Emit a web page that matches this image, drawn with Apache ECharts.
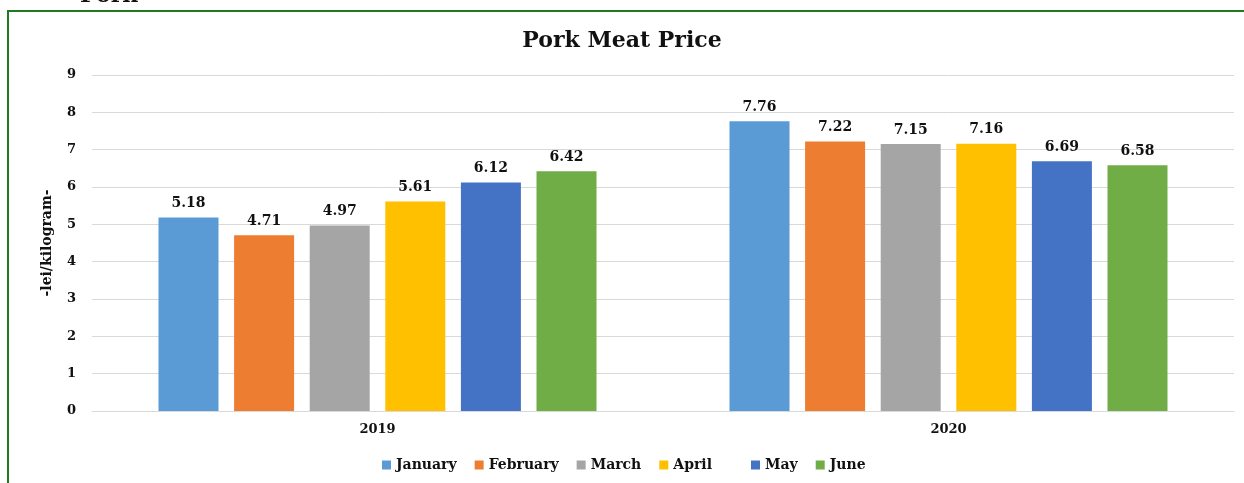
<!DOCTYPE html>
<html>
<head>
<meta charset="utf-8">
<script src="https://cdn.jsdelivr.net/npm/echarts@6/dist/echarts.min.js"></script>
<style>
  html, body { margin: 0; padding: 0; background: #fff; }
  #main { width: 1244px; height: 483px; }
</style>
</head>
<body>
<div id="main"></div>
<script>
// categories and values
const years = ["2019", "2020"];
const months = ["January", "February", "March", "April", "May", "June"];
const january = [5.18, 7.76];
const february = [4.71, 7.22];
const march = [4.97, 7.15];
const april = [5.61, 7.16];
const may = [6.12, 6.69];
const june = [6.42, 6.58];
const yTicks = [0, 9, 1];

const colors = ["#5B9BD5", "#ED7D31", "#A5A5A5", "#FFC000", "#4472C4", "#70AD47"];
const values = [january, february, march, april, may, june];
// the source text is a stretched bold serif, DejaVu Serif is the nearest width
const serif = "'DejaVu Serif', 'Liberation Serif', serif";
const ink = "#111";

const chart = echarts.init(document.getElementById("main"));

const series = months.map((m, i) => ({
  name: m,
  type: "bar",
  data: values[i],
  barWidth: 60,
  barGap: "26%",
  itemStyle: { color: colors[i] },
  label: {
    show: true,
    position: "top",
    distance: 7,
    formatter: (p) => p.value.toFixed(2),
    fontFamily: serif,
    fontWeight: "bold",
    fontSize: 14,
    color: ink,
  },
}));

const legendText = {
  fontFamily: serif,
  fontWeight: "bold",
  fontSize: 14,
  color: ink,
};

chart.setOption({
  animation: false,
  title: {
    text: "Pork Meat Price",
    left: "center",
    top: 25,
    textStyle: {
      fontFamily: serif,
      fontWeight: "bold",
      fontSize: 22,
      color: ink,
    },
  },
  // two legend blocks, the source has a wide gap before May
  legend: [
    {
      bottom: 6,
      left: 377,
      itemWidth: 9,
      itemHeight: 9,
      itemGap: 18,
      icon: "rect",
      textStyle: legendText,
      data: months.slice(0, 4),
    },
    {
      bottom: 6,
      left: 746,
      itemWidth: 9,
      itemHeight: 9,
      itemGap: 18,
      icon: "rect",
      textStyle: legendText,
      data: months.slice(4),
    },
  ],
  grid: {
    left: 92,
    right: 10,
    top: 75,
    bottom: 72,
  },
  xAxis: {
    type: "category",
    data: years,
    axisTick: { show: false },
    axisLine: { lineStyle: { color: "#d9d9d9", width: 1 } },
    axisLabel: {
      margin: 12,
      fontFamily: serif,
      fontWeight: "bold",
      fontSize: 13,
      color: ink,
    },
  },
  yAxis: {
    type: "value",
    min: yTicks[0],
    max: yTicks[1],
    interval: yTicks[2],
    name: "-lei/kilogram-",
    nameLocation: "middle",
    nameGap: 38,
    nameTextStyle: {
      fontFamily: serif,
      fontWeight: "bold",
      fontSize: 14,
      color: ink,
    },
    axisLabel: {
      margin: 16,
      fontFamily: serif,
      fontWeight: "bold",
      fontSize: 13,
      color: ink,
    },
    splitLine: { lineStyle: { color: "#d9d9d9", width: 1 } },
  },
  graphic: [
    {
      type: "rect",
      shape: { x: 8, y: 11, width: 1300, height: 600 },
      style: { fill: "none", stroke: "#217a21", lineWidth: 2 },
      silent: true,
    },
    {
      // heading above the frame, cut off by the top edge in the source
      type: "text",
      x: 80,
      y: 7,
      style: {
        text: "Pork",
        font: "bold 22px " + serif,
        fill: ink,
        verticalAlign: "bottom",
      },
      silent: true,
    },
  ],
  series: series,
});
</script>
</body>
</html>
